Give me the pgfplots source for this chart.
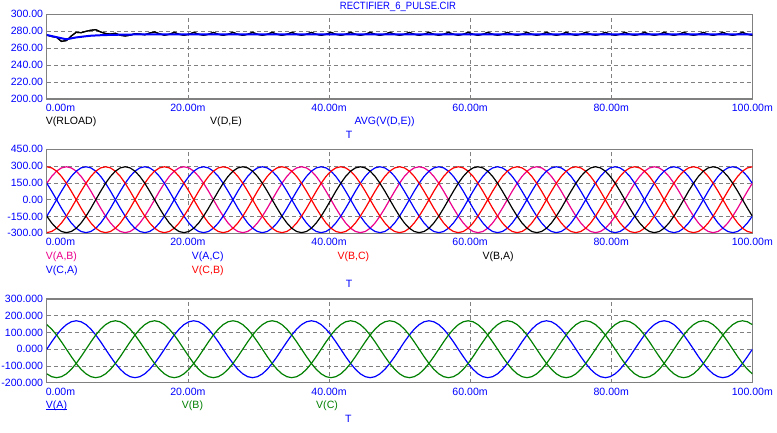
\documentclass[border=0pt]{standalone}
\usepackage{pgfplots}
\pgfplotsset{compat=1.18}
\usepackage{pgfplotstable}
\usepackage{graphicx}
\usepackage{fontspec}
\setmainfont{Liberation Sans}
\definecolor{mcgray}{RGB}{128,128,128}
\definecolor{mcgreen}{RGB}{0,128,0}
\newcommand{\mcfont}{\fontsize{10.6}{12.7}\selectfont}
\newcommand{\mcul}[1]{\setbox0\hbox{#1}\rlap{\rule[-1.6bp]{\wd0}{0.8bp}}\box0}

% t in ms; 15 degree steps of a 60 Hz supply
\pgfplotstableread{
t VA VB VC AB CA AC CB BC BA RL
0.00 0 -147 147 147 147 -147 294 -294 -147 275.5
0.69 44 -164 120 208 76 -76 284 -284 -208 273.8
1.39 85 -170 85 255 0 0 255 -255 -255 272.8
2.08 120 -164 44 284 -76 76 208 -208 -284 268.0
2.78 147 -147 0 294 -147 147 147 -147 -294 269.0
3.47 164 -120 -44 284 -208 208 76 -76 -284 274.4
4.17 170 -85 -85 255 -255 255 0 0 -255 278.7
4.86 164 -44 -120 208 -284 284 -76 76 -208 278.3
5.56 147 0 -147 147 -294 294 -147 147 -147 279.9
6.25 120 44 -164 76 -284 284 -208 208 -76 281.2
6.94 85 85 -170 0 -255 255 -255 255 0 281.8
7.64 44 120 -164 -76 -208 208 -284 284 76 279.1
8.33 0 147 -147 -147 -147 147 -294 294 147 277.3
9.03 -44 164 -120 -208 -76 76 -284 284 208 276.7
9.72 -85 170 -85 -255 0 0 -255 255 255 277.6
10.42 -120 164 -44 -284 76 -76 -208 208 284 275.2
11.11 -147 147 0 -294 147 -147 -147 147 294 274.4
11.81 -164 120 44 -284 208 -208 -76 76 284 275.3
12.50 -170 85 85 -255 255 -255 0 0 255 277.1
13.19 -164 44 120 -208 284 -284 76 -76 208 276.7
13.89 -147 0 147 -147 294 -294 147 -147 147 275.8
14.58 -120 -44 164 -76 284 -284 208 -208 76 277.9
15.28 -85 -85 170 0 255 -255 255 -255 0 279.1
15.97 -44 -120 164 76 208 -208 284 -284 -76 277.0
16.67 0 -147 147 147 147 -147 294 -294 -147 275.3
17.36 44 -164 120 208 76 -76 284 -284 -208 276.4
18.06 85 -170 85 255 0 0 255 -255 -255 278.6
18.75 120 -164 44 284 -76 76 208 -208 -284 276.4
19.44 147 -147 0 294 -147 147 147 -147 -294 275.3
20.14 164 -120 -44 284 -208 208 76 -76 -284 276.4
20.83 170 -85 -85 255 -255 255 0 0 -255 278.6
21.53 164 -44 -120 208 -284 284 -76 76 -208 276.4
22.22 147 0 -147 147 -294 294 -147 147 -147 275.3
22.92 120 44 -164 76 -284 284 -208 208 -76 276.4
23.61 85 85 -170 0 -255 255 -255 255 0 278.6
24.31 44 120 -164 -76 -208 208 -284 284 76 276.4
25.00 0 147 -147 -147 -147 147 -294 294 147 275.3
25.69 -44 164 -120 -208 -76 76 -284 284 208 276.4
26.39 -85 170 -85 -255 0 0 -255 255 255 278.6
27.08 -120 164 -44 -284 76 -76 -208 208 284 276.4
27.78 -147 147 0 -294 147 -147 -147 147 294 275.3
28.47 -164 120 44 -284 208 -208 -76 76 284 276.4
29.17 -170 85 85 -255 255 -255 0 0 255 278.6
29.86 -164 44 120 -208 284 -284 76 -76 208 276.4
30.56 -147 0 147 -147 294 -294 147 -147 147 275.3
31.25 -120 -44 164 -76 284 -284 208 -208 76 276.4
31.94 -85 -85 170 0 255 -255 255 -255 0 278.6
32.64 -44 -120 164 76 208 -208 284 -284 -76 276.4
33.33 0 -147 147 147 147 -147 294 -294 -147 275.3
34.03 44 -164 120 208 76 -76 284 -284 -208 276.4
34.72 85 -170 85 255 0 0 255 -255 -255 278.6
35.42 120 -164 44 284 -76 76 208 -208 -284 276.4
36.11 147 -147 0 294 -147 147 147 -147 -294 275.3
36.81 164 -120 -44 284 -208 208 76 -76 -284 276.4
37.50 170 -85 -85 255 -255 255 0 0 -255 278.6
38.19 164 -44 -120 208 -284 284 -76 76 -208 276.4
38.89 147 0 -147 147 -294 294 -147 147 -147 275.3
39.58 120 44 -164 76 -284 284 -208 208 -76 276.4
40.28 85 85 -170 0 -255 255 -255 255 0 278.6
40.97 44 120 -164 -76 -208 208 -284 284 76 276.4
41.67 0 147 -147 -147 -147 147 -294 294 147 275.3
42.36 -44 164 -120 -208 -76 76 -284 284 208 276.4
43.06 -85 170 -85 -255 0 0 -255 255 255 278.6
43.75 -120 164 -44 -284 76 -76 -208 208 284 276.4
44.44 -147 147 0 -294 147 -147 -147 147 294 275.3
45.14 -164 120 44 -284 208 -208 -76 76 284 276.4
45.83 -170 85 85 -255 255 -255 0 0 255 278.6
46.53 -164 44 120 -208 284 -284 76 -76 208 276.4
47.22 -147 0 147 -147 294 -294 147 -147 147 275.3
47.92 -120 -44 164 -76 284 -284 208 -208 76 276.4
48.61 -85 -85 170 0 255 -255 255 -255 0 278.6
49.31 -44 -120 164 76 208 -208 284 -284 -76 276.4
50.00 0 -147 147 147 147 -147 294 -294 -147 275.3
50.69 44 -164 120 208 76 -76 284 -284 -208 276.4
51.39 85 -170 85 255 0 0 255 -255 -255 278.6
52.08 120 -164 44 284 -76 76 208 -208 -284 276.4
52.78 147 -147 0 294 -147 147 147 -147 -294 275.3
53.47 164 -120 -44 284 -208 208 76 -76 -284 276.4
54.17 170 -85 -85 255 -255 255 0 0 -255 278.6
54.86 164 -44 -120 208 -284 284 -76 76 -208 276.4
55.56 147 0 -147 147 -294 294 -147 147 -147 275.3
56.25 120 44 -164 76 -284 284 -208 208 -76 276.4
56.94 85 85 -170 0 -255 255 -255 255 0 278.6
57.64 44 120 -164 -76 -208 208 -284 284 76 276.4
58.33 0 147 -147 -147 -147 147 -294 294 147 275.3
59.03 -44 164 -120 -208 -76 76 -284 284 208 276.4
59.72 -85 170 -85 -255 0 0 -255 255 255 278.6
60.42 -120 164 -44 -284 76 -76 -208 208 284 276.4
61.11 -147 147 0 -294 147 -147 -147 147 294 275.3
61.81 -164 120 44 -284 208 -208 -76 76 284 276.4
62.50 -170 85 85 -255 255 -255 0 0 255 278.6
63.19 -164 44 120 -208 284 -284 76 -76 208 276.4
63.89 -147 0 147 -147 294 -294 147 -147 147 275.3
64.58 -120 -44 164 -76 284 -284 208 -208 76 276.4
65.28 -85 -85 170 0 255 -255 255 -255 0 278.6
65.97 -44 -120 164 76 208 -208 284 -284 -76 276.4
66.67 0 -147 147 147 147 -147 294 -294 -147 275.3
67.36 44 -164 120 208 76 -76 284 -284 -208 276.4
68.06 85 -170 85 255 0 0 255 -255 -255 278.6
68.75 120 -164 44 284 -76 76 208 -208 -284 276.4
69.44 147 -147 0 294 -147 147 147 -147 -294 275.3
70.14 164 -120 -44 284 -208 208 76 -76 -284 276.4
70.83 170 -85 -85 255 -255 255 0 0 -255 278.6
71.53 164 -44 -120 208 -284 284 -76 76 -208 276.4
72.22 147 0 -147 147 -294 294 -147 147 -147 275.3
72.92 120 44 -164 76 -284 284 -208 208 -76 276.4
73.61 85 85 -170 0 -255 255 -255 255 0 278.6
74.31 44 120 -164 -76 -208 208 -284 284 76 276.4
75.00 0 147 -147 -147 -147 147 -294 294 147 275.3
75.69 -44 164 -120 -208 -76 76 -284 284 208 276.4
76.39 -85 170 -85 -255 0 0 -255 255 255 278.6
77.08 -120 164 -44 -284 76 -76 -208 208 284 276.4
77.78 -147 147 0 -294 147 -147 -147 147 294 275.3
78.47 -164 120 44 -284 208 -208 -76 76 284 276.4
79.17 -170 85 85 -255 255 -255 0 0 255 278.6
79.86 -164 44 120 -208 284 -284 76 -76 208 276.4
80.56 -147 0 147 -147 294 -294 147 -147 147 275.3
81.25 -120 -44 164 -76 284 -284 208 -208 76 276.4
81.94 -85 -85 170 0 255 -255 255 -255 0 278.6
82.64 -44 -120 164 76 208 -208 284 -284 -76 276.4
83.33 0 -147 147 147 147 -147 294 -294 -147 275.3
84.03 44 -164 120 208 76 -76 284 -284 -208 276.4
84.72 85 -170 85 255 0 0 255 -255 -255 278.6
85.42 120 -164 44 284 -76 76 208 -208 -284 276.4
86.11 147 -147 0 294 -147 147 147 -147 -294 275.3
86.81 164 -120 -44 284 -208 208 76 -76 -284 276.4
87.50 170 -85 -85 255 -255 255 0 0 -255 278.6
88.19 164 -44 -120 208 -284 284 -76 76 -208 276.4
88.89 147 0 -147 147 -294 294 -147 147 -147 275.3
89.58 120 44 -164 76 -284 284 -208 208 -76 276.4
90.28 85 85 -170 0 -255 255 -255 255 0 278.6
90.97 44 120 -164 -76 -208 208 -284 284 76 276.4
91.67 0 147 -147 -147 -147 147 -294 294 147 275.3
92.36 -44 164 -120 -208 -76 76 -284 284 208 276.4
93.06 -85 170 -85 -255 0 0 -255 255 255 278.6
93.75 -120 164 -44 -284 76 -76 -208 208 284 276.4
94.44 -147 147 0 -294 147 -147 -147 147 294 275.3
95.14 -164 120 44 -284 208 -208 -76 76 284 276.4
95.83 -170 85 85 -255 255 -255 0 0 255 278.6
96.53 -164 44 120 -208 284 -284 76 -76 208 276.4
97.22 -147 0 147 -147 294 -294 147 -147 147 275.3
97.92 -120 -44 164 -76 284 -284 208 -208 76 276.4
98.61 -85 -85 170 0 255 -255 255 -255 0 278.6
99.31 -44 -120 164 76 208 -208 284 -284 -76 276.4
100.00 0 -147 147 147 147 -147 294 -294 -147 275.3
}\wave

\pgfplotstableread{
t v
0.00 275.6
0.69 274.3
1.39 273.0
2.08 271.7
2.78 270.5
3.47 271.6
4.17 272.7
4.86 273.4
5.56 274.1
6.25 274.7
6.94 275.0
7.64 275.3
8.33 275.5
9.72 275.8
11.11 276.0
12.50 276.2
13.89 276.4
100.00 276.4
}\avg

\pgfplotsset{
  mcap/.style={
    scale only axis, anchor=south west, width=705.5bp,
    xmin=0, xmax=100, xtick={0,20,40,60,80,100},
    xticklabels={\makebox[0pt][l]{\hspace{-1bp}0.00m},20.00m,40.00m,60.00m,80.00m,100.00m},
    grid=major,
    major grid style={draw=mcgray, line width=0.8bp, dash pattern=on 4bp off 3bp},
    axis line style={draw=mcgray, line width=1.1bp},
    major tick length=0pt,
    tick label style={font=\mcfont, text=blue, inner sep=1bp},
    xticklabel style={anchor=north, yshift=-3.8bp},
    yticklabel style={anchor=east, xshift=-2.5bp},
    every axis plot/.append style={line width=1.2bp},
  }
}

\begin{document}
\begin{tikzpicture}[x=1bp,y=1bp,font=\mcfont]
\fill[white] (0,0) rectangle (777,432);
\useasboundingbox (0,0) rectangle (777,432);

% panel 1
\begin{axis}[mcap, at={(46.8bp,333bp)}, height=84.7bp,
  ymin=200, ymax=300, ytick={200,220,240,260,280,300},
  yticklabels={200.00,220.00,240.00,260.00,280.00,300.00}]
\addplot[black] table[x=t,y=RL]{\wave};
\addplot[black] table[x=t,y=RL]{\wave};
\addplot[blue, line width=2bp] table[x=t,y=v]{\avg};
\end{axis}

% panel 2
\begin{axis}[mcap, at={(46.8bp,198.7bp)}, height=84bp,
  ymin=-300, ymax=450, ytick={-300,-150,0,150,300,450},
  yticklabels={-300.00,-150.00,0.00,150.00,300.00,450.00}]
\addplot[magenta] table[x=t,y=AB]{\wave};
\addplot[blue] table[x=t,y=CA]{\wave};
\addplot[blue] table[x=t,y=AC]{\wave};
\addplot[red] table[x=t,y=CB]{\wave};
\addplot[red] table[x=t,y=BC]{\wave};
\addplot[black] table[x=t,y=BA]{\wave};
\end{axis}

% panel 3
\begin{axis}[mcap, at={(46.8bp,49.3bp)}, height=83.7bp,
  ymin=-200, ymax=300, ytick={-200,-100,0,100,200,300},
  yticklabels={-200.000,-100.000,0.000,100.000,200.000,300.000}]
\addplot[blue] table[x=t,y=VA]{\wave};
\addplot[mcgreen] table[x=t,y=VB]{\wave};
\addplot[mcgreen] table[x=t,y=VC]{\wave};
\end{axis}

% title
\node[anchor=base, text=blue, inner sep=0] at (398,422) {\scalebox{0.9}[1]{RECTIFIER\_6\_PULSE.CIR}};

% panel 1 labels
\node[anchor=base west, inner sep=0, text=black] at (45.7,307.5) {V(RLOAD)};
\node[anchor=base west, inner sep=0, text=black] at (210,307.5) {V(D,E)};
\node[anchor=base west, inner sep=0, text=blue] at (354.3,307.5) {AVG(V(D,E))};
\node[anchor=base west, inner sep=0, text=blue] at (345.7,293.7) {T};

% panel 2 labels
\node[anchor=base west, inner sep=0, text=magenta] at (45.7,172.5) {V(A,B)};
\node[anchor=base west, inner sep=0, text=blue] at (45.7,159) {V(C,A)};
\node[anchor=base west, inner sep=0, text=blue] at (191.7,172.5) {V(A,C)};
\node[anchor=base west, inner sep=0, text=red] at (191.7,159) {V(C,B)};
\node[anchor=base west, inner sep=0, text=red] at (337.3,172.5) {V(B,C)};
\node[anchor=base west, inner sep=0, text=black] at (482.3,172.5) {V(B,A)};
\node[anchor=base west, inner sep=0, text=blue] at (345.7,144.7) {T};

% panel 3 labels
\node[anchor=base west, inner sep=0, text=blue] at (45.7,24) {\mcul{V(A)}};
\node[anchor=base west, inner sep=0, text=mcgreen] at (181.7,24) {V(B)};
\node[anchor=base west, inner sep=0, text=mcgreen] at (316,24) {V(C)};
\node[anchor=base west, inner sep=0, text=blue] at (345,9.5) {T};
\end{tikzpicture}
\end{document}
